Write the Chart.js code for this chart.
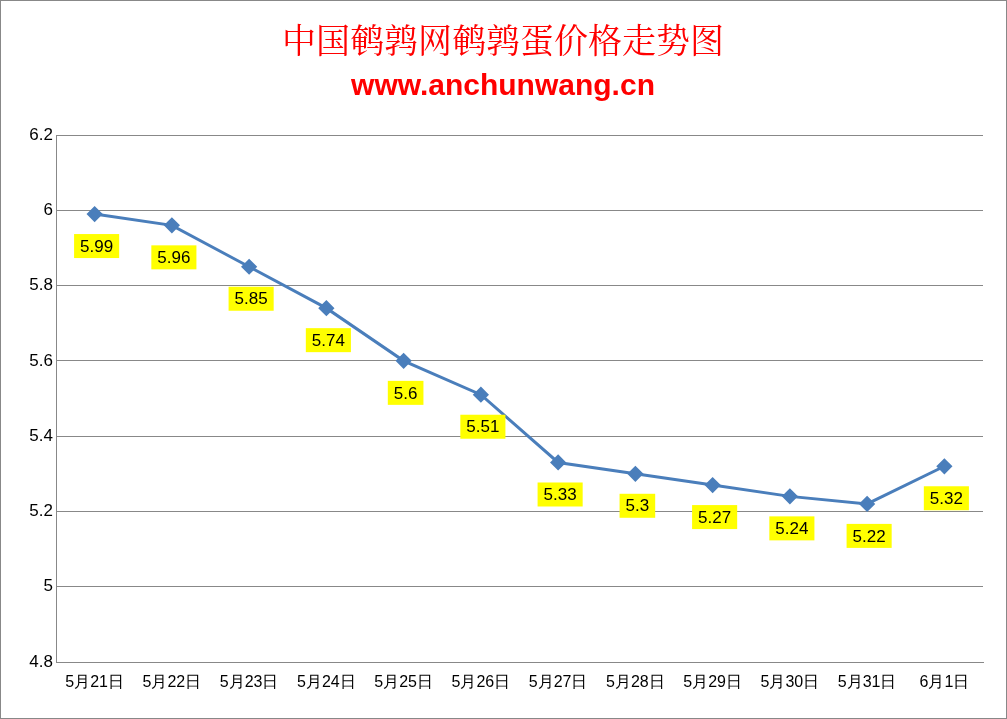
<!DOCTYPE html>
<html><head><meta charset="utf-8">
<script src="https://cdn.jsdelivr.net/npm/chart.js@4"></script>
<style>html,body{margin:0;padding:0;background:#fff}#w{position:relative;width:1007px;height:719px;box-sizing:border-box;border:1px solid #888}canvas{display:block}</style>
</head><body><div id="w"><canvas id="c" width="1005" height="717"></canvas></div>
<script>
const categories=["5月21日","5月22日","5月23日","5月24日","5月25日","5月26日","5月27日","5月28日","5月29日","5月30日","5月31日","6月1日"];
const prices=[5.99,5.96,5.85,5.74,5.6,5.51,5.33,5.3,5.27,5.24,5.22,5.32];
const labels=["5.99","5.96","5.85","5.74","5.6","5.51","5.33","5.3","5.27","5.24","5.22","5.32"];
const FONT="'Liberation Sans', Arial, sans-serif";
const deco={id:'deco',afterDraw(ch){const x=ch.ctx;const m=ch.getDatasetMeta(0);x.save();
x.font="17px "+FONT;x.textAlign='center';x.textBaseline='middle';
m.data.forEach((p,i)=>{const t=labels[i];const w=x.measureText(t).width+12;const cx=p.x+2,cy=p.y+32;
x.fillStyle='#ffff00';x.fillRect(cx-w/2,cy-12,w,24);x.fillStyle='#000';x.fillText(t,cx,cy+1);});
x.fillStyle='#ff0000';x.font="34px 'Noto Serif CJK SC','Noto Sans CJK SC',serif";x.fillText("中国鹌鹑网鹌鹑蛋价格走势图",502,39);
x.font="bold 30px "+FONT;x.fillText("www.anchunwang.cn",502,86);x.restore();}};
new Chart(document.getElementById('c'),{type:'line',
data:{labels:categories,datasets:[{data:prices,borderColor:'#4a7ebb',backgroundColor:'#4a7ebb',borderWidth:3,pointStyle:'rectRot',pointRadius:6,pointHoverRadius:6,tension:0}]},
options:{responsive:false,animation:false,devicePixelRatio:1,
layout:{padding:{top:134,right:23,left:0,bottom:0}},
plugins:{legend:{display:false},tooltip:{enabled:false}},
scales:{x:{offset:true,grid:{display:false},border:{color:'#888'},ticks:{color:'#000',font:{size:16,family:FONT},maxRotation:0,autoSkip:false},afterFit(s){s.height=56;}},
y:{min:4.8,max:6.2,ticks:{stepSize:0.2,color:'#000',font:{size:17,family:FONT},callback:v=>Math.round(v*10)/10},grid:{color:'#888',drawTicks:false},border:{color:'#888'},afterFit(s){s.width=55;}}}},
plugins:[deco]});
</script>
</body></html>
